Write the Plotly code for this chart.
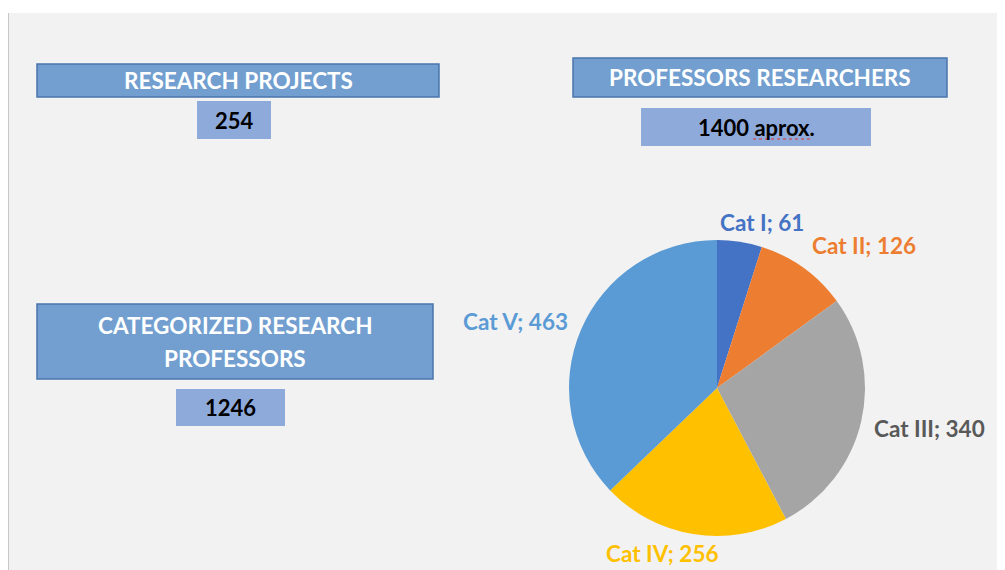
import plotly.graph_objects as go

# The page body has an 8px margin, so the figure is drawn 8px in from the top-left corner.
OFF = 8
W, H = 1005 - OFF, 570 - OFF

categories = ["Cat I", "Cat II", "Cat III", "Cat IV", "Cat V"]
values = [61, 126, 340, 256, 463]
colors = ["#4472C4", "#ED7D31", "#A5A5A5", "#FFC000", "#5B9BD5"]
label_colors = ["#4472C4", "#ED7D31", "#595959", "#FFC000", "#5B9BD5"]

headers = [["RESEARCH PROJECTS"], ["PROFESSORS RESEARCHERS"], ["CATEGORIZED RESEARCH", "PROFESSORS"]]
header_values = ["254", "1400 aprox.", "1246"]

FONT = "Lato"

def px(x):
    return (x - OFF) / W

def py(y):
    return 1 - (y - OFF) / H

fig = go.Figure()

fig.add_trace(go.Pie(
    labels=categories, values=values, sort=False, direction="clockwise", rotation=0,
    marker=dict(colors=colors, line=dict(width=0)),
    textinfo="none", hoverinfo="label+value", showlegend=False,
    domain=dict(x=[px(569), px(865)], y=[py(536), py(240)]),
))

shapes = []
shapes.append(dict(type="rect", xref="paper", yref="paper", x0=px(8), x1=px(1005), y0=py(570), y1=py(13),
                   fillcolor="#F2F2F2", line=dict(width=0), layer="below"))
shapes.append(dict(type="line", xref="paper", yref="paper", x0=px(8.5), x1=px(8.5), y0=py(570), y1=py(13),
                   line=dict(color="#C8C8C8", width=1), layer="below"))

header_boxes = [(37, 439, 64, 97), (573, 947, 58, 97), (37, 433, 304, 379)]
header_line_y = [[81], [77], [325, 358]]
value_boxes = [(197, 271, 101, 139), (641, 871, 108, 146), (176, 285, 389, 426)]

annotations = []
for (x0, x1, y0, y1), lines, ys in zip(header_boxes, headers, header_line_y):
    shapes.append(dict(type="rect", xref="paper", yref="paper", x0=px(x0), x1=px(x1), y0=py(y1), y1=py(y0),
                       fillcolor="#729FCF", line=dict(color="#4A75AE", width=1.5), layer="below"))
    for txt, ly in zip(lines, ys):
        annotations.append(dict(xref="paper", yref="paper", x=px((x0 + x1) / 2), y=py(ly),
                                text="<b>" + txt + "</b>", showarrow=False, xanchor="center", yanchor="middle",
                                font=dict(family=FONT, size=22.5, color="white")))
for (x0, x1, y0, y1), txt in zip(value_boxes, header_values):
    shapes.append(dict(type="rect", xref="paper", yref="paper", x0=px(x0), x1=px(x1), y0=py(y1), y1=py(y0),
                       fillcolor="#8EAADB", line=dict(width=0), layer="below"))
    annotations.append(dict(xref="paper", yref="paper", x=px((x0 + x1) / 2), y=py((y0 + y1) / 2),
                            text="<b>" + txt + "</b>", showarrow=False, xanchor="center", yanchor="middle",
                            font=dict(family=FONT, size=22, color="black")))

# red spell-check squiggle under "aprox."
shapes.append(dict(type="line", xref="paper", yref="paper", x0=px(753), x1=px(811), y0=py(139), y1=py(139),
                   line=dict(color="#E03030", width=1.2, dash="dot")))

label_pos = [(762, 222), (864, 245), (929, 428), (662, 553), (515, 321)]
for cat, v, c, (lx, ly) in zip(categories, values, label_colors, label_pos):
    annotations.append(dict(xref="paper", yref="paper", x=px(lx), y=py(ly),
                            text=f"<b>{cat}; {v}</b>", showarrow=False, xanchor="center", yanchor="middle",
                            font=dict(family=FONT, size=22.5, color=c)))

fig.update_layout(
    width=W, height=H, margin=dict(l=0, r=0, t=0, b=0),
    paper_bgcolor="white", plot_bgcolor="white",
    shapes=shapes, annotations=annotations,
)

fig.write_html("out.html")
